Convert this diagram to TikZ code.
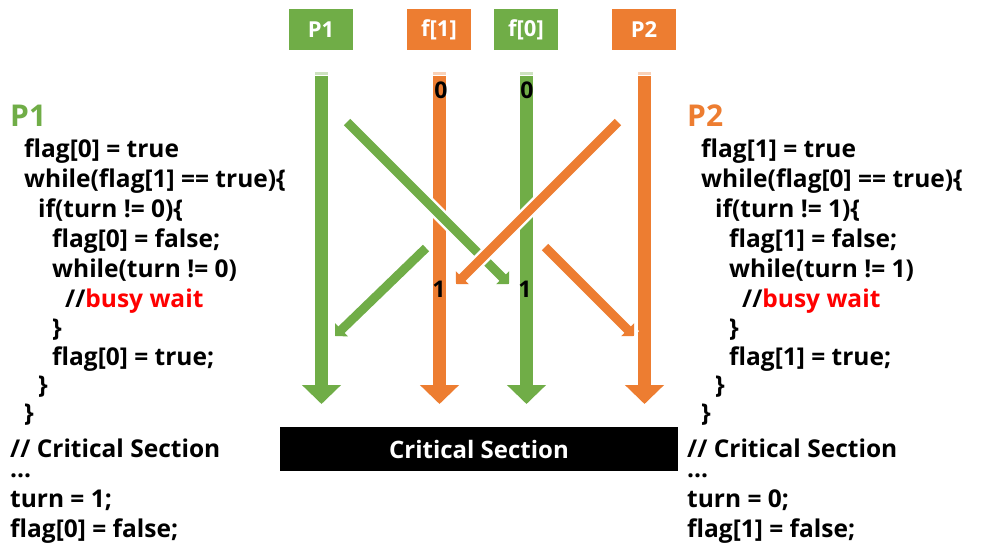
\documentclass[tikz,border=0pt]{standalone}
\usepackage{fontspec}
\setmainfont{Open Sans}
\usetikzlibrary{arrows.meta}
\definecolor{pgreen}{HTML}{70AD47}
\definecolor{porange}{HTML}{ED7D31}
\definecolor{bred}{HTML}{FF0000}
\begin{document}
\begin{tikzpicture}[x=1pt,y=-1pt,
  code/.style={anchor=base west,inner sep=0pt,font=\fontsize{24.5}{24.5}\selectfont\bfseries},
  dots/.style={code,text height=3pt,text depth=0pt},
  head/.style={anchor=base west,inner sep=0pt,font=\fontsize{30}{30}\selectfont\bfseries},
  hdrbox/.style={minimum width=64pt,minimum height=41pt,inner sep=0pt,text=white,font=\fontsize{22}{22}\selectfont\bfseries},
  vert/.style={line width=13pt,-{Triangle[width=38pt,length=19pt]}},
  diag/.style={line width=9pt,-{Triangle[width=18pt,length=9pt]},preaction={draw=white,line width=14pt,-}},
  pale/.style={line width=13pt},
  num/.style={inner sep=0pt,font=\fontsize{23}{23}\selectfont\bfseries}]
\useasboundingbox (0,0) rectangle (986,558);
\fill[white] (0,0) rectangle (986,558);
% header boxes
\node[hdrbox,fill=pgreen] (hP1) at (321,29.5) {P1};
\node[hdrbox,fill=porange] (hf1) at (439,29.5) {f[1]};
\node[hdrbox,fill=pgreen] (hf0) at (526,29.5) {f[0]};
\node[hdrbox,fill=porange] (hP2) at (644,29.5) {P2};
% coordinates
\coordinate (a1s) at (321.5,76); \coordinate (a1e) at (321.5,404);
\coordinate (a2s) at (439.5,76); \coordinate (a2e) at (439.5,404);
\coordinate (a3s) at (526.5,76); \coordinate (a3e) at (526.5,404);
\coordinate (a4s) at (644.5,76); \coordinate (a4e) at (644.5,404);
% pale ticks
\draw[pale,draw=pgreen!35] (321.5,72) -- (321.5,74.5);
\draw[pale,draw=porange!35] (439.5,72) -- (439.5,74.5);
\draw[pale,draw=pgreen!35] (526.5,72) -- (526.5,74.5);
\draw[pale,draw=porange!35] (644.5,72) -- (644.5,74.5);
% vertical arrows
\draw[vert,draw=pgreen,fill=pgreen] (a1s) -- (a1e);
\draw[vert,draw=porange,fill=porange] (a2s) -- (a2e);
\draw[vert,draw=pgreen,fill=pgreen] (a3s) -- (a3e);
\draw[vert,draw=porange,fill=porange] (a4s) -- (a4e);
% diagonals
\coordinate (g1s) at (347,122); \coordinate (g1e) at (509,284);
\coordinate (g2s) at (426,248); \coordinate (g2e) at (335,336);
\coordinate (o1s) at (618,122); \coordinate (o1e) at (456,284);
\coordinate (o2s) at (545,247); \coordinate (o2e) at (634,336);
\draw[diag,draw=pgreen,fill=pgreen] (g1s) -- (g1e);
\draw[diag,draw=pgreen,fill=pgreen] (g2s) -- (g2e);
\draw[diag,draw=porange,fill=porange] (o1s) -- (o1e);
\draw[diag,draw=porange,fill=porange] (o2s) -- (o2e);
% numbers
\node[num] (n10) at (441,90) {0};
\node[num] (n00) at (527,90) {0};
\node[num] (n11) at (439,289) {1};
\node[num] (n01) at (525,289) {1};
% critical section
\node[fill=black,minimum width=398pt,minimum height=44pt,inner sep=0pt,text=white,font=\fontsize{24}{24}\selectfont\bfseries] (cs) at (479,449) {Critical Section};
% left code
\node[head,text=pgreen] (lP) at (10,126) {P1};
\node[code] (l1) at (24,157) {flag[0] = true};
\node[code] (l2) at (24,187) {while(flag[1] == true)\{};
\node[code] (l3) at (38,217) {if(turn != 0)\{};
\node[code] (l4) at (52,247) {flag[0] = false;};
\node[code] (l5) at (52,277) {while(turn != 0)};
\node[code] (l6) at (65,307) {//\textcolor{bred}{busy wait}};
\node[code] (l7) at (52,336) {\}};
\node[code] (l8) at (52,365) {flag[0] = true;};
\node[code] (l9) at (38,393) {\}};
\node[code] (l10) at (24,421) {\}};
\node[code] (l11) at (10,457) {// Critical Section};
\node[dots] (l12) at (10,477) {...};
\node[code] (l13) at (10,507) {turn = 1;};
\node[code] (l14) at (10,537) {flag[0] = false;};
% right code
\node[head,text=porange] (rP) at (687,126) {P2};
\node[code] (r1) at (701,157) {flag[1] = true};
\node[code] (r2) at (701,187) {while(flag[0] == true)\{};
\node[code] (r3) at (715,217) {if(turn != 1)\{};
\node[code] (r4) at (729,247) {flag[1] = false;};
\node[code] (r5) at (729,277) {while(turn != 1)};
\node[code] (r6) at (742,307) {//\textcolor{bred}{busy wait}};
\node[code] (r7) at (729,336) {\}};
\node[code] (r8) at (729,365) {flag[1] = true;};
\node[code] (r9) at (715,393) {\}};
\node[code] (r10) at (701,421) {\}};
\node[code] (r11) at (687,457) {// Critical Section};
\node[dots] (r12) at (687,477) {...};
\node[code] (r13) at (687,507) {turn = 0;};
\node[code] (r14) at (687,537) {flag[1] = false;};
\end{tikzpicture}
\end{document}
